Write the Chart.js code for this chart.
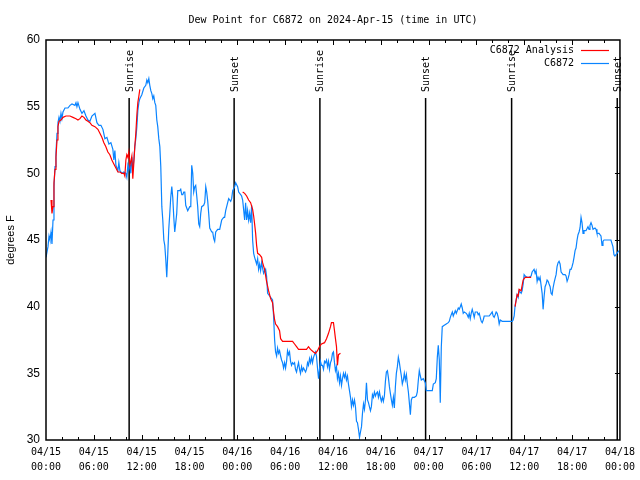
<!DOCTYPE html>
<html><head><meta charset="utf-8">
<script src="https://cdn.jsdelivr.net/npm/chart.js@4.4.1/dist/chart.umd.min.js"></script>
<style>html,body{margin:0;padding:0;background:#fff}#wrap{width:640px;height:480px}</style>
</head><body><div id="wrap"><canvas id="c" width="640" height="480"></canvas></div>
<script>
const chartTitle = 'Dew Point for C6872 on 2024-Apr-15 (time in UTC)';
const yAxisLabel = 'degrees F';
const seriesNames = ['C6872 Analysis', 'C6872'];
const seriesColors = ['#ff0000', '#0a84ff'];
const xTickDates = ['04/15','04/15','04/15','04/15','04/16','04/16','04/16','04/16','04/17','04/17','04/17','04/17','04/18'];
const xTickTimes = ['00:00','06:00','12:00','18:00','00:00','06:00','12:00','18:00','00:00','06:00','12:00','18:00','00:00'];
const sunHours = [10.43, 23.60, 34.36, 47.62, 58.41, 71.66];
const sunLabels = ['Sunrise','Sunset','Sunrise','Sunset','Sunrise','Sunset'];

// hours since 04/15 00:00 UTC
const blueHours = [
0,0.25,0.38,0.5,0.63,0.75,0.88,1.0,1.13,1.25,
1.38,1.5,1.63,1.75,1.88,2.0,2.13,2.38,2.75,3.01,
3.26,3.63,3.76,3.88,4.01,4.26,4.51,4.76,5.01,5.26,
5.51,5.76,6.14,6.39,6.64,6.89,7.14,7.39,7.64,7.89,
8.14,8.39,8.51,8.64,8.77,9.02,9.14,9.27,9.52,9.77,
10.02,10.14,10.27,10.39,10.52,10.64,10.77,10.89,11.02,11.14,
11.27,11.40,11.52,11.65,11.77,12.02,12.27,12.52,12.65,12.77,
12.90,13.02,13.15,13.27,13.40,13.52,13.65,13.77,13.90,14.02,
14.15,14.28,14.40,14.53,14.65,14.78,14.90,15.03,15.15,15.28,
15.40,15.53,15.65,15.78,15.90,16.03,16.15,16.28,16.40,16.53,
16.78,16.90,17.03,17.16,17.28,17.41,17.53,17.78,18.03,18.16,
18.28,18.41,18.53,18.66,18.78,18.91,19.03,19.16,19.28,19.41,
19.53,19.78,19.91,20.04,20.16,20.29,20.41,20.54,20.79,20.91,
21.04,21.16,21.29,21.54,21.79,22.04,22.29,22.41,22.54,22.79,
22.92,23.17,23.29,23.42,23.67,23.79,24.04,24.17,24.42,24.54,
24.67,24.79,24.92,25.04,25.17,25.29,25.42,25.54,25.67,25.80,
25.92,26.05,26.17,26.42,26.55,26.67,26.80,26.92,27.05,27.17,
27.30,27.55,27.67,27.80,28.05,28.30,28.42,28.55,28.68,28.80,
28.93,29.05,29.18,29.30,29.43,29.55,29.68,29.80,29.93,30.05,
30.18,30.30,30.43,30.55,30.68,30.80,30.93,31.05,31.18,31.30,
31.43,31.56,31.68,31.81,31.93,32.06,32.18,32.31,32.56,32.68,
32.81,32.93,33.06,33.18,33.31,33.43,33.56,33.68,33.81,33.93,
34.06,34.19,34.31,34.43,34.56,34.68,34.81,34.94,35.06,35.19,
35.31,35.44,35.56,35.69,35.81,35.94,36.06,36.19,36.31,36.44,
36.56,36.69,36.82,36.94,37.07,37.19,37.32,37.44,37.57,37.69,
37.82,37.94,38.07,38.20,38.32,38.45,38.57,38.70,38.82,38.95,
39.07,39.20,39.33,39.45,39.58,39.70,39.83,39.95,40.08,40.20,
40.33,40.45,40.57,40.70,40.82,40.95,41.08,41.20,41.33,41.45,
41.58,41.70,41.83,41.95,42.07,42.20,42.32,42.45,42.58,42.70,
42.83,42.95,43.08,43.20,43.33,43.45,43.58,43.70,43.83,43.95,
44.08,44.20,44.33,44.45,44.58,44.70,44.83,44.95,45.08,45.21,
45.33,45.46,45.58,45.71,45.83,45.96,46.21,46.46,46.58,46.71,
46.83,46.96,47.08,47.33,47.58,47.71,48.46,48.59,48.84,48.96,
49.09,49.21,49.34,49.46,49.59,49.71,49.96,50.21,50.46,50.59,
50.72,50.84,50.97,51.09,51.22,51.34,51.47,51.72,51.84,51.97,
52.09,52.22,52.34,52.47,52.72,52.84,52.97,53.09,53.22,53.34,
53.47,53.60,53.72,53.85,54.10,54.22,54.35,54.47,54.60,54.72,
54.85,54.97,55.22,55.60,55.85,55.97,56.10,56.22,56.35,56.47,
56.60,56.73,56.85,56.98,57.23,57.73,58.23,58.48,58.60,58.73,
58.85,58.98,59.10,59.23,59.35,59.61,59.73,59.86,59.98,60.11,
60.36,60.61,60.86,60.98,61.23,61.36,61.48,61.61,61.73,61.86,
61.98,62.11,62.24,62.36,62.49,62.61,62.74,62.86,62.99,63.11,
63.24,63.36,63.49,63.61,63.74,63.86,63.99,64.11,64.24,64.36,
64.49,64.62,64.87,65.12,65.24,65.37,65.49,65.62,65.74,65.87,
65.99,66.12,66.24,66.37,66.49,66.62,66.74,66.87,66.99,67.12,
67.24,67.37,67.49,67.74,67.99,68.12,68.24,68.37,68.50,68.62,
68.87,69.00,69.12,69.37,69.62,69.75,69.87,70.00,70.37,70.62,
70.87,71.12,71.25,71.37,71.62,71.87
];
const blueValues = [
43.7,44.5,45.3,45.0,45.6,44.7,46.5,49.0,50.5,51.5,
53.0,53.8,54.2,53.9,54.5,54.1,54.6,54.9,54.9,55.1,
55.2,55.1,55.3,55.0,55.3,54.8,54.5,54.7,54.3,54.0,
53.9,54.3,54.5,53.8,53.6,53.6,53.3,52.6,52.7,52.2,
52.3,51.8,51.0,51.7,50.6,50.2,50.8,50.2,50.0,50.1,
50.0,49.7,50.6,50.3,50.8,50.0,51.2,50.3,51.0,52.0,
52.6,53.5,54.7,55.3,55.6,55.9,56.4,56.6,57.0,56.8,
57.1,56.6,56.2,56.0,55.6,55.8,55.3,55.1,54.0,53.5,
52.6,52.0,50.5,47.5,46.5,45.0,44.6,43.5,42.2,44.0,
45.8,47.0,48.2,49.0,48.2,46.7,45.6,46.3,47.0,48.7,
48.7,48.8,48.4,48.4,48.6,48.6,47.6,47.2,47.5,47.5,
50.6,50.0,48.6,49.0,49.1,48.3,47.5,46.2,46.0,47.0,
47.5,47.6,47.8,49.0,48.6,47.9,47.0,45.9,45.6,45.6,
45.1,44.9,45.6,45.8,45.8,46.5,46.7,46.7,47.2,47.8,
48.1,47.9,48.1,48.7,49.0,49.3,49.0,48.6,48.4,48.3,
48.0,47.3,46.5,47.8,46.5,47.2,46.5,47.0,46.3,47.6,
45.0,44.0,43.7,43.2,43.6,42.8,43.2,42.7,43.3,42.9,
42.5,42.8,42.3,41.0,40.8,40.6,40.5,39.3,37.5,36.6,
36.3,36.9,36.5,36.7,36.3,36.0,35.8,35.4,35.8,35.4,
35.9,36.7,36.4,36.6,35.9,35.6,35.8,35.7,35.8,35.3,
35.1,35.5,35.8,35.3,35.0,35.5,35.2,35.4,35.1,35.3,
35.8,35.6,36.1,35.8,36.2,35.8,36.2,36.4,36.6,36.3,
35.4,34.6,35.3,35.9,35.6,35.6,35.3,35.9,35.8,36.0,
35.5,35.9,35.3,35.8,36.0,36.5,36.6,35.8,35.2,35.5,
34.6,35.0,34.3,34.8,34.1,34.6,35.0,34.7,35.0,34.5,
34.8,34.2,33.7,33.2,32.5,33.0,32.6,33.0,32.5,31.4,
31.3,30.8,30.2,30.6,31.0,32.0,32.7,32.3,33.0,34.3,
33.0,32.8,32.5,32.2,32.5,33.4,33.2,33.6,33.3,33.5,
33.6,33.2,33.6,33.2,32.9,33.2,32.9,33.3,34.4,35.1,
35.2,34.7,34.0,33.5,33.0,32.6,33.2,32.4,34.0,35.0,
35.5,36.2,35.8,35.3,34.8,34.2,34.5,35.0,34.5,34.9,
34.2,33.6,32.8,31.9,33.0,33.2,33.2,33.3,33.6,34.5,
35.2,34.8,34.5,34.6,34.3,33.7,33.7,34.2,34.3,34.6,
36.2,37.1,36.0,32.8,37.0,38.5,38.6,38.7,38.8,38.9,
39.2,39.4,39.6,39.3,39.5,39.7,39.5,39.9,39.8,40.0,
40.2,39.9,39.5,39.6,39.5,39.4,39.2,39.5,39.1,39.5,
39.8,39.5,39.2,39.6,39.6,39.4,39.5,39.2,38.9,38.8,
39.0,39.3,39.3,39.3,39.5,39.6,39.3,39.2,39.4,39.6,
39.5,39.2,38.7,39.0,38.9,38.9,38.9,38.9,39.0,39.3,
40.1,40.5,40.9,40.7,41.2,41.0,41.2,41.7,42.4,42.3,
42.2,42.2,42.3,42.6,42.8,42.5,42.7,41.9,42.2,42.0,
42.2,41.6,41.0,39.8,40.8,41.5,41.7,42.0,41.9,41.7,
41.5,41.0,40.9,41.4,41.8,42.1,42.4,43.0,43.3,43.4,
43.2,42.6,42.4,42.4,42.3,41.9,42.1,42.4,42.8,42.8,
43.0,43.3,43.7,44.2,44.4,45.0,45.4,45.6,45.9,46.7,
46.3,45.5,45.7,45.7,46.0,45.8,46.1,46.3,46.1,45.8,
45.9,45.8,45.5,45.5,45.3,44.6,44.9,45.0,45.0,45.0,
45.0,44.5,43.9,43.8,44.0,44.2
];
const redHours = [
0.63,0.75,0.88,1.00,1.13,1.25,1.38,1.50,1.63,1.88,
2.13,2.50,3.01,3.38,3.76,4.01,4.26,4.51,4.76,5.01,
5.26,5.51,5.76,6.14,6.51,6.76,7.01,7.26,7.51,7.76,
8.01,8.26,8.51,8.77,9.02,9.27,9.52,9.77,9.89,10.02,
10.14,10.27,10.39,10.52,10.64,10.77,10.89,11.02,11.14,11.27,
11.40,11.52,11.65,11.77,18,
24.67,24.92,25.17,25.42,25.67,25.92,26.05,26.17,26.30,26.42,
26.55,26.80,27.05,27.17,27.42,27.67,27.92,28.18,28.42,28.55,
28.68,28.80,29.05,29.30,29.43,29.68,30.30,30.93,31.18,31.43,
31.68,32.68,32.93,33.18,33.56,33.81,34.06,34.31,34.56,34.94,
35.19,35.44,35.69,35.81,36.06,36.19,36.31,36.44,36.56,36.69,
36.94,48,
58.85,58.98,59.10,59.23,59.35,59.61,59.73,59.86,60.11,60.48,
60.86
];
const redValues = [
48.0,47.0,47.5,49.3,50.3,51.2,52.5,53.5,53.9,54.0,
54.2,54.3,54.3,54.2,54.1,54.0,54.1,54.3,54.2,54.0,
53.9,53.8,53.6,53.5,53.3,53.0,52.7,52.3,52.0,51.6,
51.4,51.0,50.7,50.4,50.1,50.1,50.0,50.0,49.8,51.0,
51.4,51.2,51.6,50.6,50.9,51.3,49.6,50.8,52.0,53.0,
54.4,55.3,55.8,56.3,null,
48.6,48.5,48.3,48.0,47.8,47.3,46.8,46.2,45.5,44.6,
44.0,43.9,43.7,43.3,42.8,41.9,41.2,40.6,40.3,39.6,
39.0,38.7,38.5,38.2,37.6,37.4,37.4,37.4,37.2,37.0,
36.8,36.8,37.0,36.8,36.6,36.5,36.7,37.0,37.2,37.3,
37.6,38.0,38.5,38.8,38.8,38.2,37.6,37.0,35.6,36.4,
36.5,null,
40.0,40.5,40.9,40.8,41.3,41.2,41.6,42.0,42.2,42.2,
42.2
];

const MONO = '"DejaVu Sans Mono", monospace';

const decor = {
  id: 'decor',
  beforeDatasetsDraw(chart) {
    const {ctx, chartArea: a, scales: {x}} = chart;
    ctx.save();
    ctx.strokeStyle = '#000';
    ctx.lineWidth = 1.5;
    ctx.fillStyle = '#000';
    ctx.font = '10px ' + MONO;
    sunHours.forEach((h, i) => {
      const px = x.getPixelForValue(h);
      ctx.beginPath();
      ctx.moveTo(px, a.top + 58);
      ctx.lineTo(px, a.bottom);
      ctx.stroke();
      ctx.save();
      ctx.translate(px + 1, a.top + 52);
      ctx.rotate(-Math.PI / 2);
      ctx.textAlign = 'left';
      ctx.textBaseline = 'middle';
      ctx.fillText(sunLabels[i], 0, 0);
      ctx.restore();
    });
    ctx.restore();
  },
  afterDraw(chart) {
    const {ctx, chartArea: a, scales: {x, y}} = chart;
    ctx.save();
    ctx.strokeStyle = '#000';
    ctx.lineWidth = 1.5;
    ctx.strokeRect(a.left, a.top, a.right - a.left, a.bottom - a.top);
    ctx.lineWidth = 1;
    ctx.beginPath();
    for (let h = 2; h < 72; h += 2) {
      const px = Math.round(x.getPixelForValue(h)) + 0.5;
      const len = (h % 6 === 0) ? 5 : 3;
      ctx.moveTo(px, a.top); ctx.lineTo(px, a.top + len);
      ctx.moveTo(px, a.bottom); ctx.lineTo(px, a.bottom - len);
    }
    for (let v = 35; v < 60; v += 5) {
      const py = Math.round(y.getPixelForValue(v)) + 0.5;
      ctx.moveTo(a.right, py); ctx.lineTo(a.right - 5, py);
    }
    ctx.stroke();
    // title
    ctx.fillStyle = '#000';
    ctx.font = '10px ' + MONO;
    ctx.textAlign = 'center';
    ctx.textBaseline = 'middle';
    ctx.fillText(chartTitle, (a.left + a.right) / 2, 20);
    // legend
    ctx.textAlign = 'right';
    const rows = [50, 63];
    seriesNames.forEach((n, i) => {
      ctx.fillStyle = '#000';
      ctx.fillText(n, 574, rows[i]);
      ctx.strokeStyle = seriesColors[i];
      ctx.lineWidth = 1.2;
      ctx.beginPath();
      ctx.moveTo(581, rows[i] + 0.5);
      ctx.lineTo(609, rows[i] + 0.5);
      ctx.stroke();
    });
    ctx.restore();
  }
};

const toXY = (hs, vs) => hs.map((h, i) => ({x: h, y: vs[i]}));

new Chart(document.getElementById('c'), {
  type: 'line',
  data: {
    datasets: [
      {label: seriesNames[0], data: toXY(redHours, redValues), borderColor: seriesColors[0], borderWidth: 1.2, pointRadius: 0, tension: 0, spanGaps: false, fill: false},
      {label: seriesNames[1], data: toXY(blueHours, blueValues), borderColor: seriesColors[1], borderWidth: 1.2, pointRadius: 0, tension: 0, fill: false}
    ]
  },
  options: {
    responsive: false,
    animation: false,
    devicePixelRatio: 1,
    layout: {padding: {top: 40, right: 19, left: 0, bottom: 0}},
    plugins: {legend: {display: false}, title: {display: false}, tooltip: {enabled: false}},
    scales: {
      x: {
        type: 'linear', min: 0, max: 72, offset: false,
        grid: {display: false, drawTicks: false}, border: {display: false},
        ticks: {
          stepSize: 6, autoSkip: false, maxRotation: 0, minRotation: 0, padding: 5,
          color: '#000', font: {family: MONO, size: 10, lineHeight: 1.5},
          callback: (v) => { const i = Math.round(v / 6); return [xTickDates[i], xTickTimes[i]]; }
        },
        afterFit: (s) => { s.height = 40; }
      },
      y: {
        min: 30, max: 60,
        grid: {display: false, drawTicks: false}, border: {display: false},
        ticks: {stepSize: 5, padding: 6, color: '#000', font: {family: 'Liberation Sans', size: 12}},
        title: {display: true, text: yAxisLabel, color: '#000', font: {family: 'Liberation Sans', size: 11}, padding: {top: 4, bottom: 0}},
        afterFit: (s) => { s.width = 46; }
      }
    }
  },
  plugins: [decor]
});
</script>
</body></html>
